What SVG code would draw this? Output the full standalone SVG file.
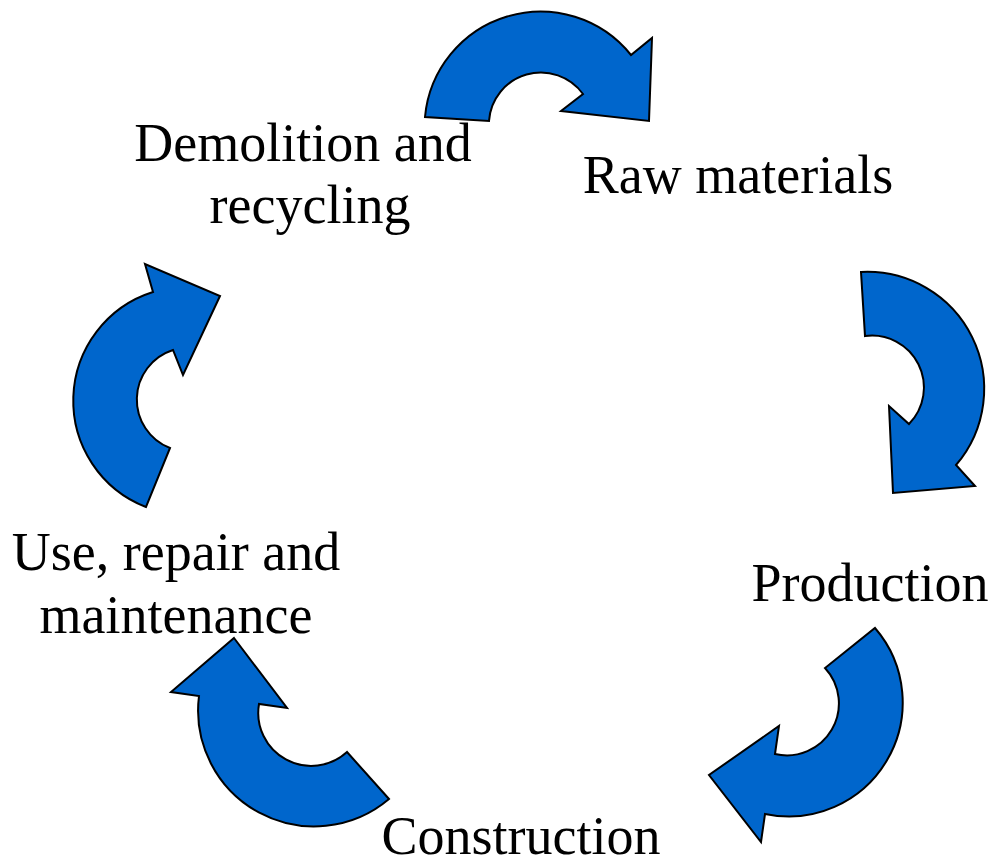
<svg xmlns="http://www.w3.org/2000/svg" width="992" height="858" viewBox="0 0 992 858">
<style>
.arrow{fill:#0066cc;stroke:#000;stroke-width:2;stroke-linejoin:miter}
.lbl{font-family:"Liberation Serif","Times New Roman",serif;font-size:54px;fill:#000;text-anchor:middle}
</style>
<rect width="992" height="858" fill="#fff"/>
<g id="connectors">
<path id="arrow-demolition-raw" class="arrow" d="M 425,117 A 116 116 0 0 1 631,55 L 652,38 L 649,121 L 561,111 L 583,94 A 52 52 0 0 0 489,121 Z"/>
<path id="arrow-raw-production" class="arrow" d="M 861,272 A 117 117 0 0 1 956,465 L 975,486 L 893,493 L 889,406 L 909,424 A 52 52 0 0 0 865,336 Z"/>
<path id="arrow-production-construction" class="arrow" d="M 875,628 A 114 114 0 0 1 765,814 L 761,842 L 709,775 L 779,726 L 775,754 A 52 52 0 0 0 825,668 Z"/>
<path id="arrow-construction-use" class="arrow" d="M 234,638 L 287,708 L 259,704 A 53 53 0 0 0 347,752 L 389,799 A 116 116 0 0 1 199,696 L 171,692 Z"/>
<path id="arrow-use-demolition" class="arrow" d="M 220,296 L 183,375 L 173,350 A 52 52 0 0 0 170,448 L 146,507 A 114 114 0 0 1 153,292 L 145,264 Z"/>
</g>
<g id="node-demolition">
<text class="lbl" x="303" y="161">Demolition and</text>
<text class="lbl" x="310" y="223">recycling</text>
</g>
<g id="node-raw">
<text class="lbl" x="738" y="193">Raw materials</text>
</g>
<g id="node-production">
<text class="lbl" x="870" y="601">Production</text>
</g>
<g id="node-construction">
<text class="lbl" x="521" y="854">Construction</text>
</g>
<g id="node-use">
<text class="lbl" x="176" y="570">Use, repair and</text>
<text class="lbl" x="176" y="633">maintenance</text>
</g>
</svg>
